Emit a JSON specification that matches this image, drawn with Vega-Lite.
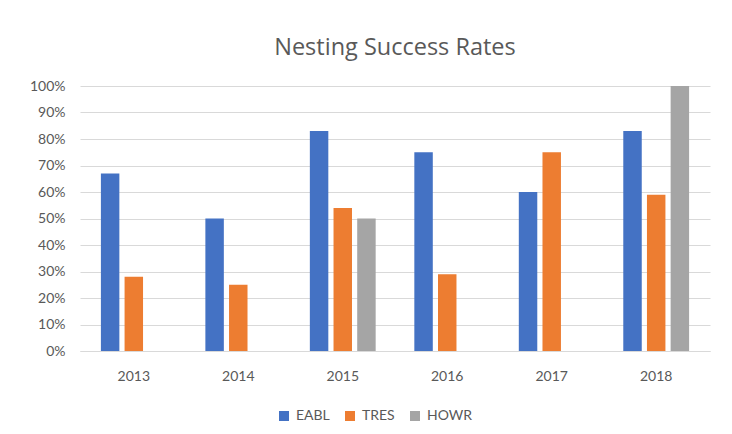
{
  "$schema": "https://vega.github.io/schema/vega-lite/v6.json",
  "width": 630,
  "height": 265,
  "autosize": {"type": "none"},
  "padding": {"left": 80, "top": 86, "right": 22, "bottom": 83},
  "background": "white",
  "title": {
    "text": "Nesting Success Rates",
    "font": "Open Sans",
    "fontSize": 23.5,
    "fontWeight": "normal",
    "color": "#595959",
    "anchor": "middle",
    "offset": 20
  },
  "data": {
    "values": [
      {"year": "2013", "species": "EABL", "rate": 0.67},
      {"year": "2013", "species": "TRES", "rate": 0.28},
      {"year": "2014", "species": "EABL", "rate": 0.50},
      {"year": "2014", "species": "TRES", "rate": 0.25},
      {"year": "2015", "species": "EABL", "rate": 0.83},
      {"year": "2015", "species": "TRES", "rate": 0.54},
      {"year": "2015", "species": "HOWR", "rate": 0.50},
      {"year": "2016", "species": "EABL", "rate": 0.75},
      {"year": "2016", "species": "TRES", "rate": 0.29},
      {"year": "2017", "species": "EABL", "rate": 0.60},
      {"year": "2017", "species": "TRES", "rate": 0.75},
      {"year": "2018", "species": "EABL", "rate": 0.83},
      {"year": "2018", "species": "TRES", "rate": 0.59},
      {"year": "2018", "species": "HOWR", "rate": 1.00}
    ]
  },
  "mark": {"type": "bar"},
  "encoding": {
    "x": {
      "field": "year",
      "type": "nominal",
      "scale": {"paddingInner": 0.37, "paddingOuter": 0.2},
      "axis": {
        "title": null,
        "labelAngle": 0,
        "labelFont": "Lato",
        "labelFontSize": 14,
        "labelColor": "#595959",
        "labelPadding": 18,
        "ticks": false,
        "domainColor": "#d9d9d9",
        "grid": false
      }
    },
    "xOffset": {
      "field": "species",
      "type": "nominal",
      "sort": ["EABL", "TRES", "HOWR"],
      "scale": {"paddingInner": 0.22, "paddingOuter": 0}
    },
    "y": {
      "field": "rate",
      "type": "quantitative",
      "scale": {"domain": [0, 1]},
      "axis": {
        "title": null,
        "format": ".0%",
        "values": [0, 0.1, 0.2, 0.3, 0.4, 0.5, 0.6, 0.7, 0.8, 0.9, 1.0],
        "labelOverlap": false,
        "labelFont": "Lato",
        "labelFontSize": 14,
        "labelColor": "#595959",
        "labelPadding": 15,
        "ticks": false,
        "domain": false,
        "gridColor": "#d9d9d9"
      }
    },
    "color": {
      "field": "species",
      "type": "nominal",
      "sort": ["EABL", "TRES", "HOWR"],
      "scale": {"domain": ["EABL", "TRES", "HOWR"], "range": ["#4472C4", "#ED7D31", "#A5A5A5"]},
      "legend": {
        "title": null,
        "orient": "none",
        "legendX": 197,
        "legendY": 323,
        "direction": "horizontal",
        "symbolType": "square",
        "symbolSize": 100,
        "symbolStrokeWidth": 0,
        "labelFont": "Lato",
        "labelFontSize": 14,
        "labelColor": "#595959",
        "columnPadding": 13,
        "labelOffset": 5
      }
    }
  },
  "config": {
    "view": {"stroke": null}
  }
}
